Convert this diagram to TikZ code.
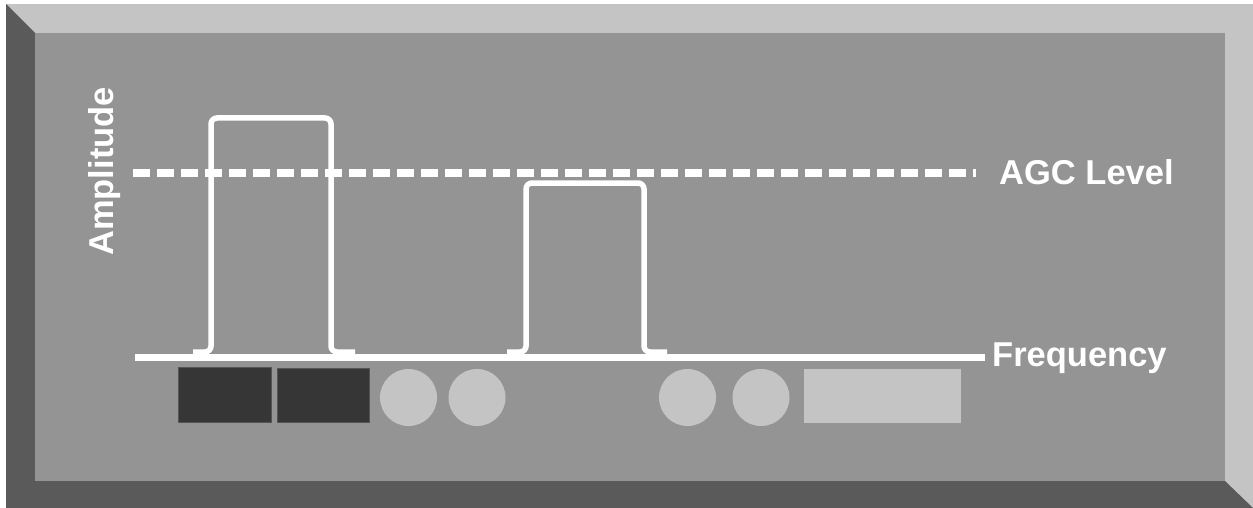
\documentclass[tikz,border=0pt]{standalone}
\usepackage{fontspec}
\setmainfont{Liberation Sans}
\begin{document}
\begin{tikzpicture}[x=1pt,y=-1pt,
  lbl/.style={text=white,font=\fontsize{34.5}{40}\selectfont\bfseries,inner sep=0pt},
  sig/.style={draw=white,line width=5.5pt,rounded corners=6pt},
  darkbox/.style={fill=boxdark,draw=boxedge,line width=1pt},
  lightbox/.style={fill=bevlight},
  knob/.style={fill=bevlight}]
\definecolor{bevlight}{HTML}{C4C4C4}
\definecolor{bevdark}{HTML}{5A5A5A}
\definecolor{face}{HTML}{949494}
\definecolor{boxdark}{HTML}{363636}
\definecolor{boxedge}{HTML}{555555}
\useasboundingbox (0,0) rectangle (1253,508);
\fill[white] (0,0) rectangle (1253,508);
% bevel frame
\fill[bevlight] (6,4) rectangle (1253,508);
\fill[bevdark] (6,4) -- (35,33) -- (35,481) -- (1225,481) -- (1253,508) -- (6,508) -- cycle;
\fill[face] (35,33) rectangle (1225,481);
% axes
\coordinate (fstart) at (135,357);
\coordinate (fend) at (985,357);
\coordinate (astart) at (133,173);
\coordinate (aend) at (976,173);
\draw[white,line width=7pt] (fstart) -- (fend);
\draw[white,line width=8pt,dash pattern=on 17pt off 7pt] (astart) -- (aend);
% pulses
\draw[sig] (193,352) -- (211,352) -- (211,118) -- (331,118) -- (331,352) -- (355,352);
\draw[sig] (507,352) -- (526,352) -- (526,183) -- (644,183) -- (644,352) -- (667,352);
% labels
\node[lbl,anchor=base west] (agc) at (999,185) {AGC Level};
\node[lbl,anchor=base west] (freq) at (992,366) {Frequency};
\node[lbl,anchor=base west,rotate=90] (amp) at (113,256) {Amplitude};
% controls
\draw[darkbox] (178,367) rectangle (271,422);
\draw[darkbox] (277,368) rectangle (369,422);
\fill[knob] (408.5,397.5) circle (28.5);
\fill[knob] (477,397.5) circle (28.5);
\fill[knob] (687.5,397.5) circle (28.5);
\fill[knob] (761,397.5) circle (28.5);
\fill[lightbox] (804,369) rectangle (961,423);
\end{tikzpicture}
\end{document}
